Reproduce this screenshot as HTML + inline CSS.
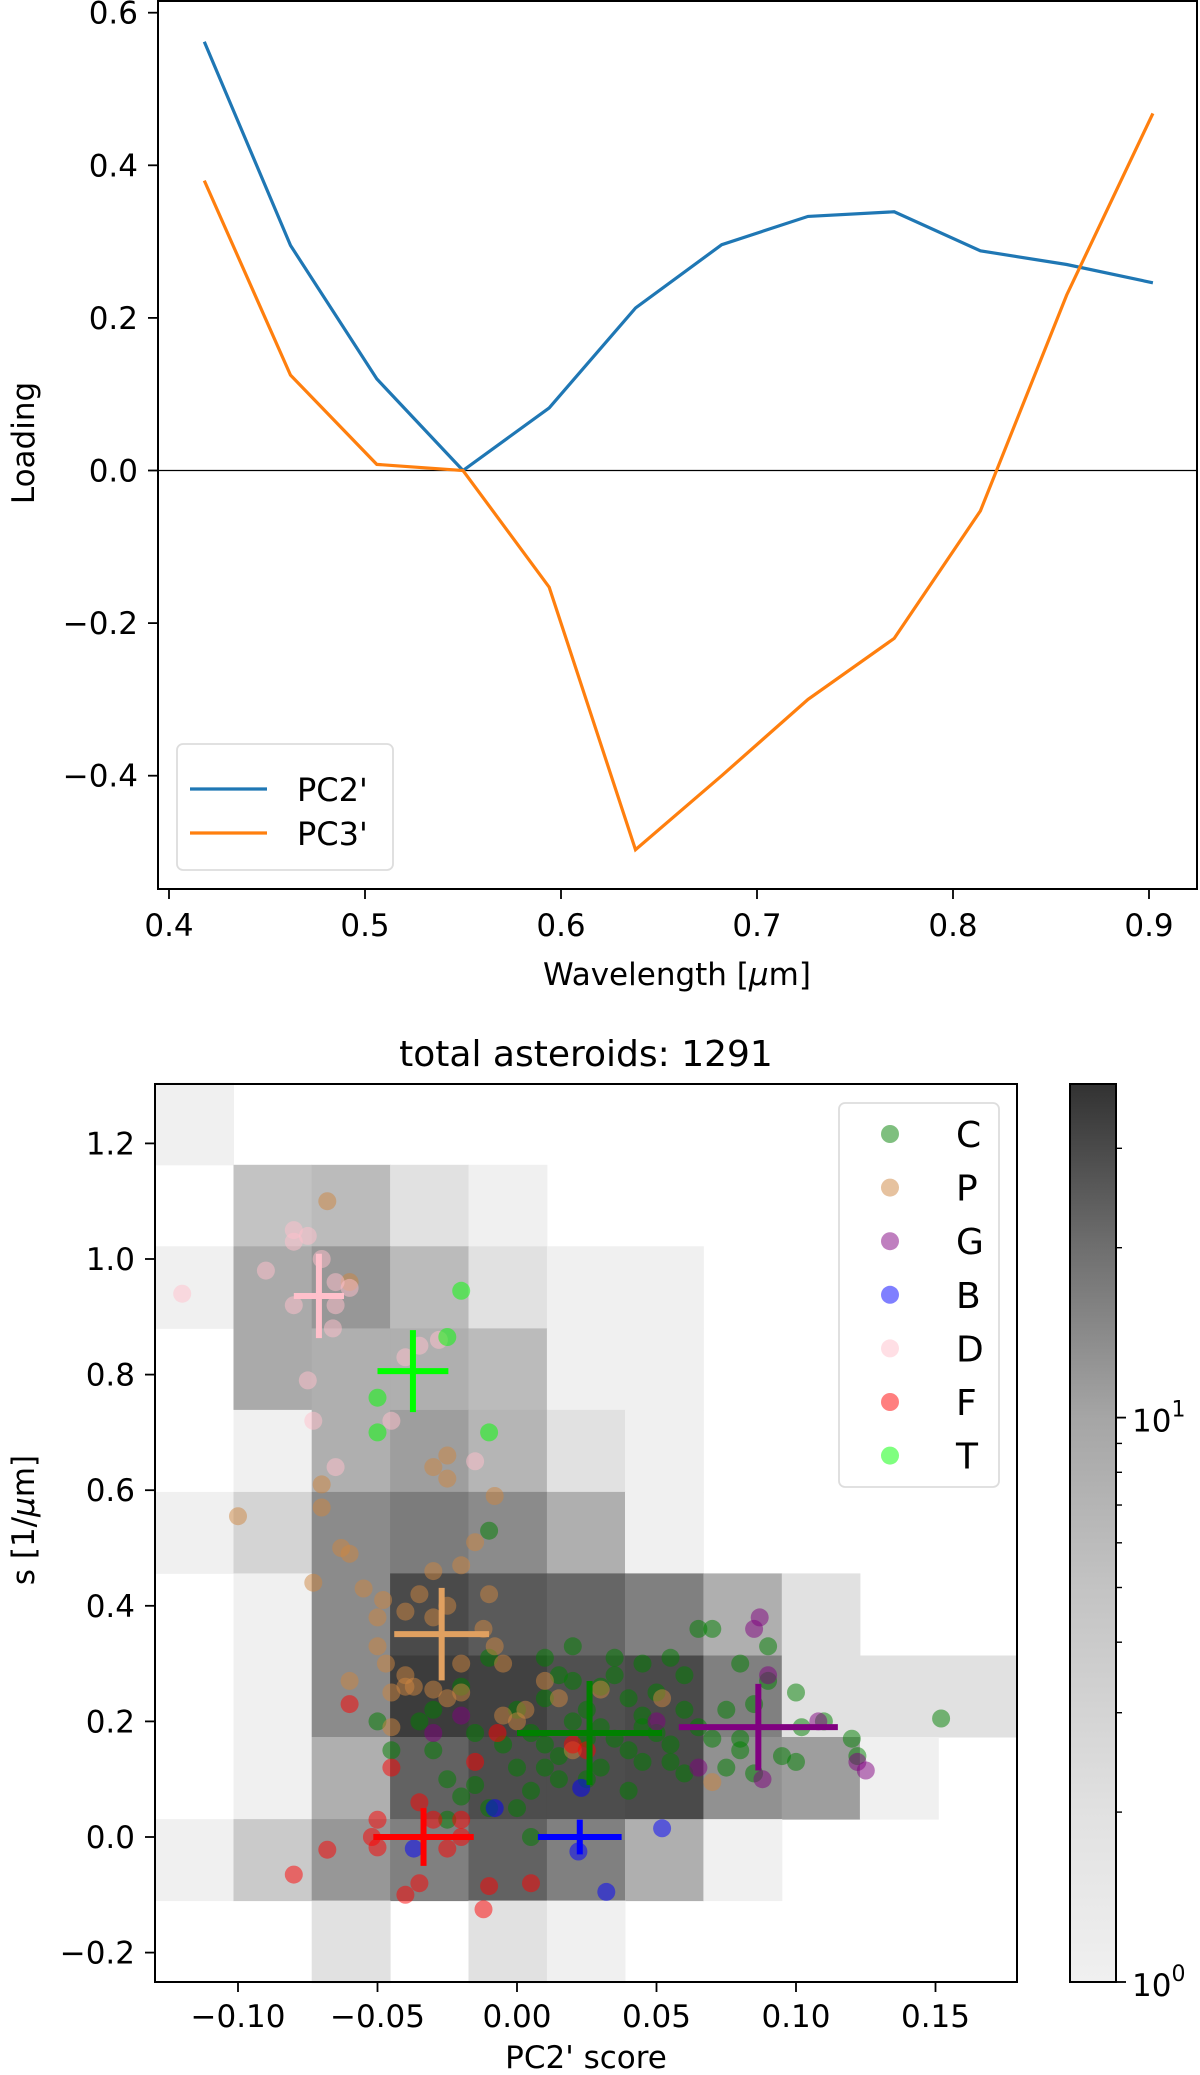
<!DOCTYPE html>
<html><head><meta charset="utf-8"><style>
html,body{margin:0;padding:0;background:#fff}
svg{display:block;font-family:"DejaVu Sans","Liberation Sans",sans-serif}
</style></head><body>
<svg id="fig" width="1200" height="2075" viewBox="0 0 1200 2075" xmlns="http://www.w3.org/2000/svg">
<defs>
<linearGradient id="cbg" x1="0" y1="1" x2="0" y2="0">
<stop offset="0" stop-color="#f0f0f0"/><stop offset="0.19" stop-color="#e1e1e1"/><stop offset="0.3" stop-color="#d4d4d4"/><stop offset="0.44" stop-color="#c3c3c3"/><stop offset="0.63" stop-color="#a5a5a5"/><stop offset="0.82" stop-color="#6e6e6e"/><stop offset="1" stop-color="#323232"/>
</linearGradient>
</defs>
<g id="top"></g>
<g id="bot"></g>
</svg>
<script>
// ---------- top chart data ----------
const wavelengths=[0.418,0.462,0.506,0.550,0.594,0.638,0.682,0.726,0.770,0.814,0.858,0.902];
const pc2Loading=[0.562,0.295,0.12,0.0,0.082,0.213,0.296,0.333,0.339,0.288,0.27,0.246];
const pc3Loading=[0.38,0.125,0.008,0.0,-0.153,-0.497,-0.4,-0.30,-0.22,-0.053,0.23,0.468];
const topXTicks=[0.4,0.5,0.6,0.7,0.8,0.9];
const topYTicks=[-0.4,-0.2,0.0,0.2,0.4,0.6];
// ---------- bottom chart data ----------
const histCounts=[
[1,0,0,0,0,0,0,0,0,0,0],
[0,5,6,2,1,0,0,0,0,0,0],
[1,9,12,6,2,1,1,0,0,0,0],
[0,9,8,8,6,1,1,0,0,0,0],
[0,1,8,11,7,2,1,0,0,0,0],
[1,3,14,17,14,8,1,0,0,0,0],
[0,1,14,30,25,22,16,8,2,0,0],
[0,1,14,35,33,28,30,16,2,2,2],
[0,1,8,23,29,29,30,13,11,1,0],
[1,4,12,16,23,16,8,1,0,0,0],
[0,0,2,0,2,1,0,0,0,0,0]];
const histXEdges=[-0.1297,-0.1016,-0.0736,-0.0455,-0.0174,0.0107,0.0387,0.0668,0.0949,0.1229,0.151,0.179];
const histYEdges=[1.305,1.163,1.022,0.880,0.739,0.597,0.456,0.314,0.173,0.031,-0.110,-0.252];
const botXTicks=[-0.10,-0.05,0.00,0.05,0.10,0.15];
const botXTickLabels=["\u22120.10","\u22120.05","0.00","0.05","0.10","0.15"];
const botYTicks=[-0.2,0.0,0.2,0.4,0.6,0.8,1.0,1.2];
const classNames=["C","P","G","B","D","F","T"];
const classColors=["#008000","#cd853f","#800080","#0000ff","#ffc0cb","#ff0000","#00ff00"];
const crossColors=["#008000","#e0a060","#800080","#0000ff","#ffc0cb","#ff0000","#00ff00"];
const ptsC=[[-0.01,0.53],[0.0,0.22],[0.005,0.18],[0.01,0.16],[0.015,0.14],[0.02,0.20],[0.025,0.22],[0.03,0.19],[0.035,0.17],[0.04,0.15],[0.045,0.21],[0.05,0.18],[0.055,0.16],[0.06,0.22],[0.065,0.19],[0.07,0.17],[0.075,0.22],[0.08,0.15],[0.085,0.23],[0.09,0.33],[0.09,0.27],[0.1,0.25],[0.102,0.19],[0.12,0.17],[0.122,0.14],[0.152,0.205],[0.07,0.36],[0.065,0.36],[0.055,0.31],[0.045,0.30],[0.035,0.28],[0.02,0.33],[0.01,0.31],[-0.01,0.31],[-0.02,0.26],[-0.03,0.22],[-0.05,0.20],[-0.045,0.15],[-0.03,0.15],[-0.025,0.10],[-0.02,0.07],[-0.015,0.09],[-0.01,0.05],[0.0,0.05],[0.005,0.08],[0.01,0.12],[0.015,0.10],[0.025,0.10],[0.03,0.12],[0.04,0.08],[0.045,0.13],[0.06,0.11],[0.075,0.12],[0.08,0.17],[0.095,0.14],[0.1,0.13],[0.085,0.11],[0.05,0.25],[0.03,0.26],[0.01,0.24],[-0.005,0.16],[-0.015,0.18],[0.0,0.12],[-0.025,0.03],[0.005,0.0],[0.02,0.27],[0.04,0.24],[0.06,0.28],[0.08,0.30],[0.11,0.20],[-0.035,0.20],[0.015,0.28],[0.035,0.31],[0.025,0.17],[0.045,0.19],[0.055,0.13]];
const ptsP=[[-0.068,1.10],[-0.06,0.96],[-0.1,0.555],[-0.073,0.44],[-0.07,0.61],[-0.07,0.57],[-0.063,0.50],[-0.06,0.49],[-0.055,0.43],[-0.048,0.41],[-0.05,0.38],[-0.05,0.33],[-0.047,0.30],[-0.045,0.25],[-0.04,0.28],[-0.04,0.39],[-0.035,0.42],[-0.03,0.46],[-0.03,0.38],[-0.025,0.40],[-0.02,0.47],[-0.015,0.51],[-0.03,0.64],[-0.025,0.62],[-0.025,0.66],[-0.037,0.26],[-0.03,0.255],[-0.025,0.24],[-0.02,0.25],[-0.01,0.42],[-0.012,0.36],[-0.008,0.33],[-0.005,0.30],[0.003,0.22],[0.01,0.27],[0.015,0.24],[0.0,0.20],[-0.005,0.21],[-0.04,0.26],[0.02,0.15],[-0.045,0.19],[0.07,0.095],[0.052,0.24],[0.03,0.255],[-0.02,0.30],[-0.008,0.59],[-0.06,0.27]];
const ptsG=[[0.085,0.36],[0.087,0.38],[0.108,0.20],[0.122,0.13],[0.125,0.115],[0.088,0.10],[-0.02,0.21],[0.05,0.2],[0.065,0.12],[0.09,0.28],[-0.03,0.18]];
const ptsB=[[-0.037,-0.02],[-0.008,0.05],[0.023,0.085],[0.022,-0.025],[0.052,0.015],[0.032,-0.095]];
const ptsD=[[-0.12,0.94],[-0.09,0.98],[-0.08,1.05],[-0.08,1.03],[-0.075,1.04],[-0.07,1.0],[-0.08,0.92],[-0.075,0.79],[-0.073,0.72],[-0.065,0.96],[-0.065,0.92],[-0.066,0.88],[-0.065,0.64],[-0.04,0.83],[-0.035,0.85],[-0.028,0.86],[-0.015,0.65],[-0.045,0.72],[-0.06,0.95]];
const ptsF=[[-0.08,-0.065],[-0.068,-0.022],[-0.06,0.23],[-0.052,0.0],[-0.05,0.03],[-0.05,-0.018],[-0.045,0.12],[-0.04,-0.1],[-0.035,-0.08],[-0.035,0.06],[-0.03,0.03],[-0.025,-0.02],[-0.02,0.03],[-0.012,-0.125],[-0.01,-0.085],[-0.007,0.18],[0.005,-0.08],[-0.015,0.13],[-0.02,0.0],[0.02,0.16],[0.025,0.15]];
const ptsT=[[-0.02,0.945],[-0.025,0.865],[-0.05,0.76],[-0.05,0.70],[-0.01,0.70]];
const crossCenters=[[0.026,0.18],[-0.027,0.351],[0.0865,0.19],[0.0225,0.0],[-0.071,0.936],[-0.0335,0.0],[-0.0373,0.806]];
const crossXErr=[0.026,0.017,0.0285,0.015,0.009,0.018,0.0127];
const crossYErr=[0.09,0.08,0.075,0.03,0.073,0.05,0.071];
const cbarMax=39;

const NS="http://www.w3.org/2000/svg";
function mk(parent,tag,attrs,text){const e=document.createElementNS(NS,tag);for(const k in attrs)e.setAttribute(k,attrs[k]);if(text!==undefined)e.textContent=text;parent.appendChild(e);return e;}
const FS=31;

// ===== top chart =====
const T=document.getElementById('top');
const tx=v=>169+(v-0.4)*1960, ty=v=>470.5-v*763;
const TL=158,TR=1197,TT=1,TB=889;
mk(T,'line',{x1:TL,x2:TR,y1:ty(0),y2:ty(0),stroke:'#000','stroke-width':1.3});
function linePath(vals){return vals.map((v,i)=>(i?'L':'M')+tx(wavelengths[i]).toFixed(1)+' '+ty(v).toFixed(1)).join(' ');}
let l1=mk(T,'path',{d:linePath(pc2Loading),fill:'none',stroke:'#1f77b4','stroke-width':3.2});


let l2=mk(T,'path',{d:linePath(pc3Loading),fill:'none',stroke:'#ff7f0e','stroke-width':3.2});


mk(T,'rect',{x:TL,y:TT,width:TR-TL,height:TB-TT,fill:'none',stroke:'#000','stroke-width':2});
topXTicks.forEach(v=>{
  const t=mk(T,'line',{x1:tx(v),x2:tx(v),y1:TB,y2:TB+10,stroke:'#000','stroke-width':1.8});
  
  const l=mk(T,'text',{x:tx(v),y:TB+47,'font-size':FS,'text-anchor':'middle'},v.toFixed(1));
  
  
});
topYTicks.forEach(v=>{
  mk(T,'line',{x1:TL-10,x2:TL,y1:ty(v),y2:ty(v),stroke:'#000','stroke-width':1.8});
  const l=mk(T,'text',{x:TL-20,y:ty(v)+11,'font-size':FS,'text-anchor':'end'},(v<0?'\u2212':'')+Math.abs(v).toFixed(1));
  
  
});
let xl=mk(T,'text',{x:677,y:985,'font-size':FS,'text-anchor':'middle'},'Wavelength [');


mk(xl,'tspan',{'font-style':'italic'},'\u03bc');
mk(xl,'tspan',{},'m]');
let yl=mk(T,'text',{x:0,y:0,'font-size':FS,'text-anchor':'middle',transform:'translate(34,443) rotate(-90)'},'Loading');


const tleg=mk(T,'g',{});


mk(tleg,'rect',{x:177,y:744,width:216,height:126,rx:6,fill:'#fff',stroke:'#ddd','stroke-width':1.8});
[['PC2\'','#1f77b4',789],['PC3\'','#ff7f0e',833]].forEach(([n,c,y])=>{
  const g=mk(tleg,'g',{});
  
  
  mk(g,'line',{x1:190,x2:267,y1:y,y2:y,stroke:c,'stroke-width':3.2});
  mk(g,'text',{x:297,y:y+12,'font-size':FS+1},n);
});

// ===== bottom chart =====
const B=document.getElementById('bot');
const bx=v=>517+v*2790, by=v=>1837-v*578;
const BL=155,BR=1017,BT=1084,BB=1982;
const gStops=[[0,240],[0.19,225],[0.3,212],[0.44,195],[0.63,165],[0.82,110],[1,50]];
function greyFor(c){const t=Math.min(1,Math.log10(c)/Math.log10(cbarMax));for(let i=1;i<gStops.length;i++){if(t<=gStops[i][0]){const a=gStops[i-1],b=gStops[i];const f=(t-a[0])/(b[0]-a[0]);return Math.round(a[1]+f*(b[1]-a[1]));}}return 50;}
const hg=mk(B,'g',{});


histCounts.forEach((row,r)=>row.forEach((c,k)=>{
  if(!c)return;
  const g=greyFor(c);
  const x0=bx(histXEdges[k]),x1=bx(histXEdges[k+1]),y0=by(histYEdges[r]),y1=by(histYEdges[r+1]);
  const cell=mk(hg,'rect',{x:x0.toFixed(1),y:y0.toFixed(1),width:(x1-x0+0.5).toFixed(1),height:(y1-y0+0.5).toFixed(1),fill:`rgb(${g},${g},${g})`});
  
  
}));
const allPts=[ptsC,ptsP,ptsG,ptsB,ptsD,ptsF,ptsT];
const sg=mk(B,'g',{});


allPts.forEach((pts,i)=>pts.forEach(p=>{
  const c=mk(sg,'circle',{cx:bx(p[0]).toFixed(1),cy:by(p[1]).toFixed(1),r:9,fill:classColors[i],'fill-opacity':0.5});
  
  
}));
crossCenters.forEach((p,i)=>{
  const g=mk(B,'g',{stroke:crossColors[i],'stroke-width':6});
  
  
  mk(g,'line',{x1:bx(p[0]-crossXErr[i]),x2:bx(p[0]+crossXErr[i]),y1:by(p[1]),y2:by(p[1])});
  mk(g,'line',{x1:bx(p[0]),x2:bx(p[0]),y1:by(p[1]-crossYErr[i]),y2:by(p[1]+crossYErr[i])});
});
mk(B,'rect',{x:BL,y:BT,width:BR-BL,height:BB-BT,fill:'none',stroke:'#000','stroke-width':2});
botXTicks.forEach((v,i)=>{
  mk(B,'line',{x1:bx(v),x2:bx(v),y1:BB,y2:BB+10,stroke:'#000','stroke-width':1.8});
  const l=mk(B,'text',{x:bx(v),y:BB+45,'font-size':FS,'text-anchor':'middle'},botXTickLabels[i]);
  
  
});
botYTicks.forEach(v=>{
  mk(B,'line',{x1:BL-10,x2:BL,y1:by(v),y2:by(v),stroke:'#000','stroke-width':1.8});
  const l=mk(B,'text',{x:BL-20,y:by(v)+11,'font-size':FS,'text-anchor':'end'},(v<0?'\u2212':'')+Math.abs(v).toFixed(1));
  
  
});
let tt=mk(B,'text',{x:586,y:1066,'font-size':36,'text-anchor':'middle'},'total asteroids: 1291');


let bxl=mk(B,'text',{x:586,y:2068,'font-size':FS,'text-anchor':'middle'},'PC2\' score');


let byl=mk(B,'text',{x:0,y:0,'font-size':FS,'text-anchor':'middle',transform:'translate(34,1520) rotate(-90)'},'s [1/');


mk(byl,'tspan',{'font-style':'italic'},'\u03bc');
mk(byl,'tspan',{},'m]');
// legend
const bleg=mk(B,'g',{});


mk(bleg,'rect',{x:839,y:1103,width:160,height:384,rx:6,fill:'#fff','fill-opacity':0.8,stroke:'#ddd','stroke-width':1.8});
classNames.forEach((n,i)=>{
  const y=1134+i*53.6;
  const g=mk(bleg,'g',{});
  
  
  mk(g,'circle',{cx:890,cy:y,r:9,fill:classColors[i],'fill-opacity':0.5});
  mk(g,'text',{x:956,y:y+13,'font-size':36,'text-anchor':'start'},n);
});
// colorbar
const cb=mk(B,'g',{});


const CL=1070,CR=1116;
const cy=v=>BB-(BB-BT)*Math.log10(v)/Math.log10(cbarMax);
mk(cb,'rect',{x:CL,y:BT,width:CR-CL,height:BB-BT,fill:'url(#cbg)',stroke:'#000','stroke-width':2});
[2,3,4,5,6,7,8,9,20,30].forEach(v=>mk(cb,'line',{x1:CR,x2:CR+6,y1:cy(v),y2:cy(v),stroke:'#000','stroke-width':1.4}));
[1,10].forEach((v,i)=>{
  mk(cb,'line',{x1:CR,x2:CR+10,y1:cy(v),y2:cy(v),stroke:'#000','stroke-width':1.8});
  const t=mk(cb,'text',{x:CR+16,y:cy(v)+14,'font-size':FS},'10');
  
  
  mk(t,'tspan',{dy:-15,'font-size':22},String(i));
});
</script>
</body></html>
